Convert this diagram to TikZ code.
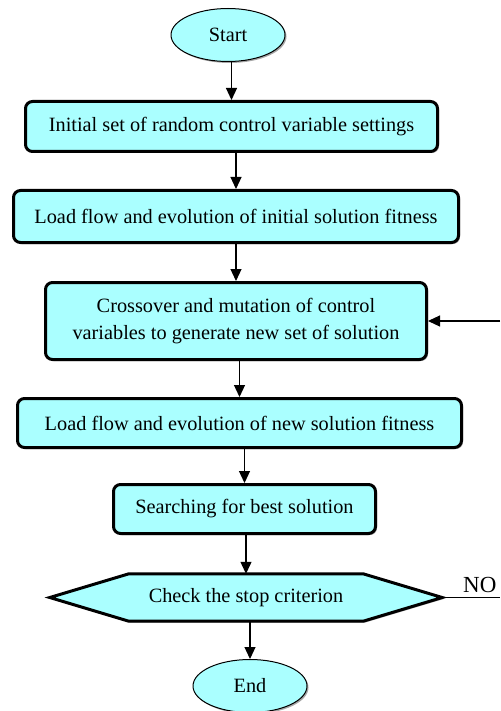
\documentclass[tikz,border=0pt]{standalone}
\usepackage{fontspec}
\setmainfont{Liberation Serif}
\usetikzlibrary{arrows.meta,shapes.geometric,shadows}
\definecolor{boxfill}{RGB}{170,255,255}
\tikzset{
  shd/.style={drop shadow={shadow xshift=1.5pt,shadow yshift=-1.5pt,opacity=0.35,fill=black}},
  procbox/.style={draw,line width=3pt,rounded corners=7pt,fill=boxfill,shd,align=center,inner sep=0pt},
  termnode/.style={draw,line width=1pt,ellipse,fill=boxfill,shd,inner sep=0pt,minimum width=114pt,minimum height=53pt},
  arr/.style={line width=1.2pt,-{Triangle[length=12pt,width=11pt]}},
  plainline/.style={line width=1pt},
}
\begin{document}
\begin{tikzpicture}[x=1pt,y=-1pt,font=\fontsize{20.3}{27}\selectfont]
\useasboundingbox (0,0) rectangle (500,711);
\node[termnode] (start) at (228,35) {Start};
\node[procbox,minimum width=412pt,minimum height=50pt] (b1) at (231.5,126.5) {Initial set of random control variable settings};
\node[procbox,minimum width=445pt,minimum height=52pt] (b2) at (236,216.5) {Load flow and evolution of initial solution fitness};
\node[procbox,minimum width=381pt,minimum height=77pt] (b3) at (236,321) {Crossover and mutation of control\\variables to generate new set of solution};
\node[procbox,minimum width=444pt,minimum height=49pt] (b4) at (239.5,423) {Load flow and evolution of new solution fitness};
\node[procbox,minimum width=262pt,minimum height=49pt] (b5) at (244.5,509) {Searching for best solution};
\node[minimum width=392pt,minimum height=47pt,inner sep=0pt] (chk) at (246,597.5) {};
\draw[line width=3pt,fill=boxfill,shd,line join=miter]
  (chk.west) -- ([xshift=79pt]chk.north west) -- ([xshift=-79pt]chk.north east)
  -- (chk.east) -- ([xshift=-79pt]chk.south east) -- ([xshift=79pt]chk.south west) -- cycle;
\node at (chk.center) {Check the stop criterion};
\node[termnode] (end) at (250,686) {End};
\coordinate (fb) at (500,321);
\coordinate (noend) at (500,597.5);
\node[anchor=south west,inner sep=0pt,font=\fontsize{23}{27}\selectfont] (no) at (463,593) {NO};
\draw[arr] (b1.north |- start.south) -- (b1.north);
\draw[arr] (b2.north |- b1.south) -- (b2.north);
\draw[arr] (b3.north |- b2.south) -- (b3.north);
\draw[arr] (b4.north |- b3.south) -- (b4.north);
\draw[arr] (b5.north |- b4.south) -- (b5.north);
\draw[arr] (chk.north |- b5.south) -- (chk.north);
\draw[arr] (end.north |- chk.south) -- (end.north);
\draw[arr] (fb) -- (b3.east);
\draw[plainline] (chk.east) -- (noend);
\end{tikzpicture}
\end{document}
